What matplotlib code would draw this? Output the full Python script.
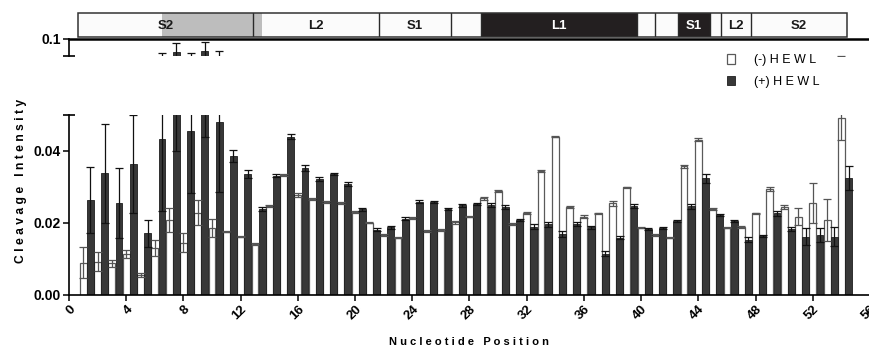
import matplotlib
matplotlib.use('Agg')
import matplotlib.pyplot as plt
from matplotlib.patches import Rectangle, Patch
import numpy as np

plt.rcParams['font.family'] = ['Liberation Sans', 'DejaVu Sans']

# ---------------- data ----------------
nucleotides = list(range(1, 55))
minus_hewl = [0.0090, 0.0093, 0.0088, 0.0114, 0.0056, 0.0130, 0.0208, 0.0145, 0.0229, 0.0185,
              0.0176, 0.0162, 0.0142, 0.0247, 0.0333, 0.0278, 0.0266, 0.0259, 0.0255, 0.0230,
              0.0201, 0.0167, 0.0159, 0.0213, 0.0178, 0.0181, 0.0202, 0.0218, 0.0269, 0.0290,
              0.0197, 0.0227, 0.0345, 0.0440, 0.0245, 0.0218, 0.0227, 0.0255, 0.0299, 0.0187,
              0.0167, 0.0159, 0.0358, 0.0431, 0.0239, 0.0187, 0.0190, 0.0227, 0.0294, 0.0245,
              0.0218, 0.0256, 0.0208, 0.0491]
minus_err = [0.0044, 0.0027, 0.0010, 0.0011, 0.0005, 0.0022, 0.0033, 0.0026, 0.0034, 0.0025,
             0.0002, 0.0002, 0.0002, 0.0003, 0.0003, 0.0005, 0.0003, 0.0003, 0.0003, 0.0003,
             0.0002, 0.0002, 0.0002, 0.0003, 0.0002, 0.0002, 0.0004, 0.0002, 0.0004, 0.0003,
             0.0002, 0.0003, 0.0003, 0.0002, 0.0002, 0.0004, 0.0002, 0.0007, 0.0002, 0.0002,
             0.0002, 0.0002, 0.0004, 0.0004, 0.0002, 0.0002, 0.0003, 0.0002, 0.0005, 0.0006,
             0.0023, 0.0056, 0.0058, 0.0060]
plus_hewl = [0.0264, 0.0338, 0.0255, 0.0363, 0.0171, 0.0432, 0.0640, 0.0456, 0.0680, 0.0481,
             0.0386, 0.0336, 0.0239, 0.0331, 0.0440, 0.0352, 0.0322, 0.0336, 0.0308, 0.0238,
             0.0181, 0.0188, 0.0212, 0.0259, 0.0258, 0.0238, 0.0249, 0.0253, 0.0250, 0.0245,
             0.0208, 0.0190, 0.0196, 0.0169, 0.0197, 0.0188, 0.0114, 0.0159, 0.0247, 0.0183,
             0.0185, 0.0206, 0.0247, 0.0324, 0.0222, 0.0206, 0.0153, 0.0164, 0.0227, 0.0183,
             0.0162, 0.0167, 0.0162, 0.0326]
plus_err = [0.0091, 0.0137, 0.0097, 0.0136, 0.0037, 0.0198, 0.0240, 0.0174, 0.0240, 0.0194,
            0.0017, 0.0010, 0.0006, 0.0004, 0.0006, 0.0008, 0.0005, 0.0003, 0.0006, 0.0005,
            0.0004, 0.0005, 0.0005, 0.0004, 0.0003, 0.0003, 0.0004, 0.0003, 0.0006, 0.0005,
            0.0003, 0.0006, 0.0006, 0.0008, 0.0005, 0.0004, 0.0007, 0.0004, 0.0006, 0.0003,
            0.0003, 0.0003, 0.0007, 0.0013, 0.0003, 0.0003, 0.0007, 0.0003, 0.0007, 0.0006,
            0.0023, 0.0020, 0.0026, 0.0033]

x_ticks = list(range(0, 57, 4))
y_ticks_low = [0.00, 0.02, 0.04]
y_ticks_high = [0.1]
upper_range = (0.054, 0.1)

# secondary-structure annotation strip
seg_bounds = [0.63, 12.84, 21.7, 26.7, 28.8, 39.7, 41.0, 42.6, 44.8, 45.6, 47.7, 54.4]
seg_labels = ['S2', 'L2', 'S1', '', 'L1', '', '', 'S1', '', 'L2', 'S2']
seg_dark = [False, False, False, False, True, False, False, True, False, False, False]
shade_span = [6.5, 13.5]

# ---------------- figure ----------------
fig = plt.figure(figsize=(8.7, 3.48), dpi=100)
L = 69 / 870
W = 801 / 870
ax = fig.add_axes([L, 53 / 348, W, 180 / 348])
axu = fig.add_axes([L, 292 / 348, W, 17 / 348])
axb = fig.add_axes([L, 311 / 348, W, 24 / 348])

pos = np.array(nucleotides, dtype=float)
WHITE_EDGE = '#5a5a5a'
DARK = '#383838'


def draw_bars(a):
    a.bar(pos, minus_hewl, width=0.48, color='white', edgecolor=WHITE_EDGE, linewidth=0.9,
          yerr=minus_err, error_kw=dict(ecolor='#555555', capsize=2.6, elinewidth=0.9, capthick=0.9),
          zorder=2)
    a.bar(pos + 0.5, plus_hewl, width=0.48, color=DARK, edgecolor='#1e1e1e', linewidth=0.6,
          yerr=plus_err, error_kw=dict(ecolor='#111111', capsize=2.6, elinewidth=0.9, capthick=0.9),
          zorder=2)


draw_bars(ax)
draw_bars(axu)

# lower axis
ax.set_xlim(0, 56)
ax.set_ylim(0, 0.05)
ax.spines['top'].set_visible(False)
ax.spines['right'].set_visible(False)
for s in ['left', 'bottom']:
    ax.spines[s].set_linewidth(1.2)
ax.set_xticks(x_ticks)
ax.set_xticklabels([str(t) for t in x_ticks], rotation=45, ha='right', rotation_mode='anchor',
                   fontsize=9.5, fontweight='bold')
ax.set_yticks(y_ticks_low)
ax.set_yticklabels(['%.2f' % t for t in y_ticks_low], fontsize=10, fontweight='bold')
ax.tick_params(axis='both', direction='out', length=4, width=1.1, pad=2)
ax.plot([0], [0.05], marker='_', markersize=8, markeredgewidth=1.2, color='black', clip_on=False, zorder=5)

# upper axis (broken part)
axu.set_xlim(0, 56)
axu.set_ylim(*upper_range)
axu.spines['bottom'].set_visible(False)
axu.spines['right'].set_visible(False)
axu.spines['left'].set_linewidth(1.2)
axu.spines['top'].set_linewidth(1.8)
axu.set_xticks([])
axu.set_yticks(y_ticks_high)
axu.set_yticklabels(['0.1'], fontsize=10, fontweight='bold')
axu.tick_params(axis='y', direction='out', length=4, width=1.1, pad=2)
axu.plot([0], [upper_range[0]], marker='_', markersize=8, markeredgewidth=1.2, color='black',
         clip_on=False, zorder=5)
axu.patch.set_alpha(0)

# annotation strip
axb.set_xlim(0, 56)
axb.set_ylim(0, 1)
axb.axis('off')
axb.add_patch(Rectangle((seg_bounds[0], 0), seg_bounds[-1] - seg_bounds[0], 1,
                        facecolor='#fbfbfb', edgecolor='none', zorder=1))
axb.add_patch(Rectangle((shade_span[0], 0), shade_span[1] - shade_span[0], 1,
                        facecolor='#bdbdbd', edgecolor='none', zorder=2))
for i, lab in enumerate(seg_labels):
    x0, x1 = seg_bounds[i], seg_bounds[i + 1]
    if seg_dark[i]:
        axb.add_patch(Rectangle((x0, 0), x1 - x0, 1, facecolor='#231f20', edgecolor='none', zorder=3))
    if lab:
        axb.text((x0 + x1) / 2, 0.45, lab, ha='center', va='center', fontsize=9.5, fontweight='bold',
                 color='white' if seg_dark[i] else '#1a1a1a', zorder=5)
for b in seg_bounds[1:-1]:
    axb.plot([b, b], [0, 1], color='#2a2a2a', lw=1.0, zorder=4)
axb.add_patch(Rectangle((seg_bounds[0], 0), seg_bounds[-1] - seg_bounds[0], 1,
                        facecolor='none', edgecolor='#333333', lw=1.1, zorder=6, clip_on=False))

# legend
handles = [Patch(facecolor='white', edgecolor=WHITE_EDGE, linewidth=0.9),
           Patch(facecolor=DARK, edgecolor='#1e1e1e', linewidth=0.6)]
fig.legend(handles, ['(-) H E W L', '(+) H E W L'], loc='upper left',
           bbox_to_anchor=(716 / 870, 1 - 43 / 348), frameon=False, fontsize=9,
           handlelength=0.65, handleheight=0.8, handletextpad=1.5, labelspacing=0.75)

# axis labels
fig.text(21 / 870, 1 - 181 / 348, 'C l e a v a g e   I n t e n s i t y', rotation=90,
         ha='center', va='center', fontsize=8.7, fontweight='bold')
fig.text(469 / 870, 1 - 342 / 348, 'N u c l e o t i d e   P o s i t i o n',
         ha='center', va='center', fontsize=8, fontweight='bold')

fig.savefig('out.png', dpi=100)
